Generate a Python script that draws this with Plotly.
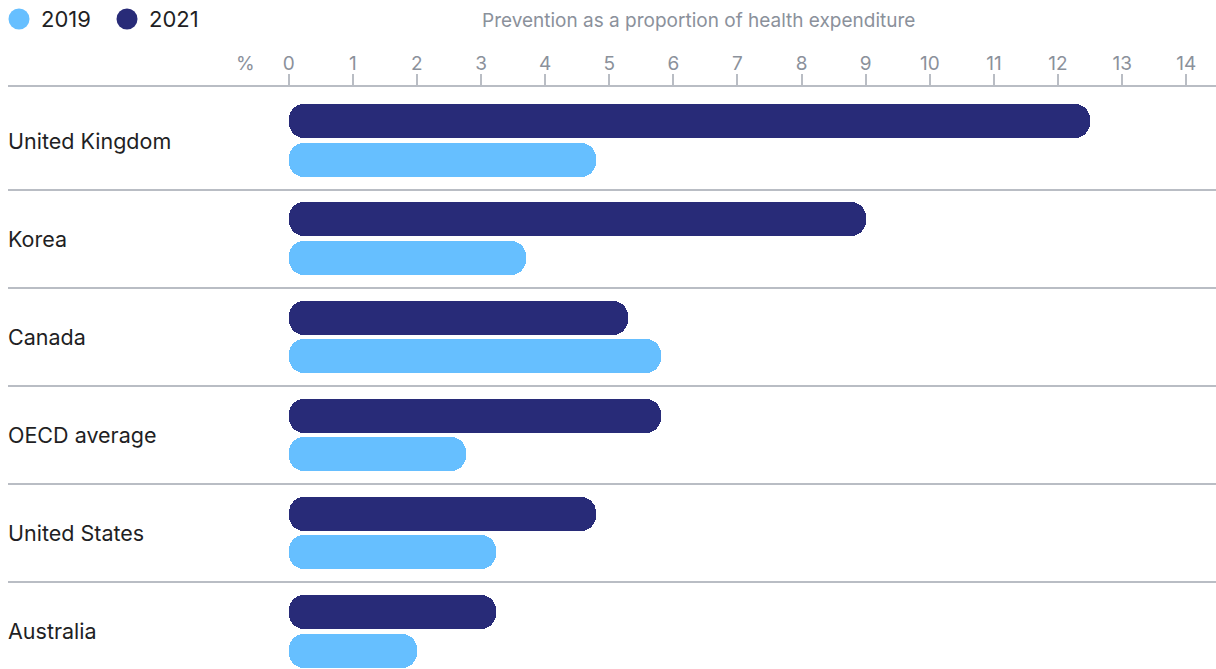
import plotly.graph_objects as go

countries = ["United Kingdom", "Korea", "Canada", "OECD average", "United States", "Australia"]
v2021 = [12.5, 9.0, 5.3, 5.8, 4.8, 3.24]
v2019 = [4.8, 3.7, 5.8, 2.76, 3.24, 2.0]
tick_vals = list(range(0, 15))
series_names = ["2019", "2021"]

C2019 = "#66bfff"
C2021 = "#282b78"
GRID = "#b9bdc4"
TICKC = "#8b919b"
TEXTC = "#1f1f24"
FONT = "Inter"

W, H = 1216, 669
ML, MT = 8, 87
PW, PH = W - ML, H - MT


def px_x(p):
    return (p - ML) / PW


def px_y(p):
    return (H - p) / PH


ypos = list(range(len(countries)))
OFF = 0.197
BW = 0.347
RAD = 15

fig = go.Figure()


def add_pill(values, offset, color, name):
    ys = [y + offset for y in ypos]
    fig.add_trace(go.Bar(
        y=ys, x=[v * 0.6 for v in values], base=[v * 0.4 for v in values],
        orientation="h", width=BW, marker=dict(color=color, line=dict(width=0), cornerradius=RAD),
        showlegend=False, hoverinfo="skip", name=name))
    fig.add_trace(go.Bar(
        y=ys, x=[-v * 0.6 for v in values], base=[v * 0.6 for v in values],
        orientation="h", width=BW, marker=dict(color=color, line=dict(width=0), cornerradius=RAD),
        showlegend=False, hoverinfo="skip", name=name))


add_pill(v2021, -OFF, C2021, "2021")
add_pill(v2019, OFF, C2019, "2019")

shapes = []
annotations = []

# manual legend
legend_x = [19, 127]
for nm, col, cx in zip(series_names, [C2019, C2021], legend_x):
    shapes.append(dict(type="circle", xref="paper", yref="paper",
                       xsizemode="pixel", ysizemode="pixel",
                       xanchor=px_x(cx), yanchor=px_y(19),
                       x0=-10.5, x1=10.5, y0=-10.5, y1=10.5,
                       fillcolor=col, line=dict(width=0)))
    annotations.append(dict(text=nm, x=px_x(cx + 20), xref="paper", xanchor="left",
                            y=px_y(19), yref="paper", yanchor="middle", showarrow=False,
                            font=dict(family=FONT, size=22, color=TEXTC)))

for i, c in enumerate(countries):
    annotations.append(dict(text=c, x=0, xref="paper", xanchor="left", xshift=-2, y=i, yref="y",
                            yanchor="middle", showarrow=False,
                            font=dict(family=FONT, size=21.5, color=TEXTC)))
annotations.append(dict(text="%", x=-0.67, xref="x", y=px_y(64), yref="paper", yanchor="middle",
                        showarrow=False, font=dict(family=FONT, size=19, color=TICKC)))
annotations.append(dict(text="Prevention as a proportion of health expenditure",
                        x=px_x(698), xref="paper", y=px_y(21), yref="paper",
                        yanchor="middle", showarrow=False,
                        font=dict(family=FONT, size=19, color=TICKC)))

fig.update_layout(
    width=W, height=H,
    margin=dict(l=ML, r=0, t=MT, b=0),
    paper_bgcolor="white", plot_bgcolor="white",
    barmode="overlay",
    bargap=0,
    showlegend=False,
    xaxis=dict(side="top", range=[-4.378, 14.464], tickvals=tick_vals,
               ticktext=[str(t) for t in tick_vals],
               showgrid=False, zeroline=False, showline=True, linecolor=GRID, linewidth=2,
               ticks="outside", ticklen=11, tickwidth=1.5, tickcolor=GRID,
               ticklabelstandoff=-4,
               tickfont=dict(family=FONT, size=19, color=TICKC), fixedrange=True),
    yaxis=dict(range=[5.385, -0.547], tickvals=[i + 0.5 for i in ypos[:-1]],
               showticklabels=False, showgrid=True, gridcolor=GRID, gridwidth=1.5,
               zeroline=False, showline=False, ticks="", fixedrange=True),
    shapes=shapes,
    annotations=annotations,
    font=dict(family=FONT),
)

fig.write_html("out.html")
